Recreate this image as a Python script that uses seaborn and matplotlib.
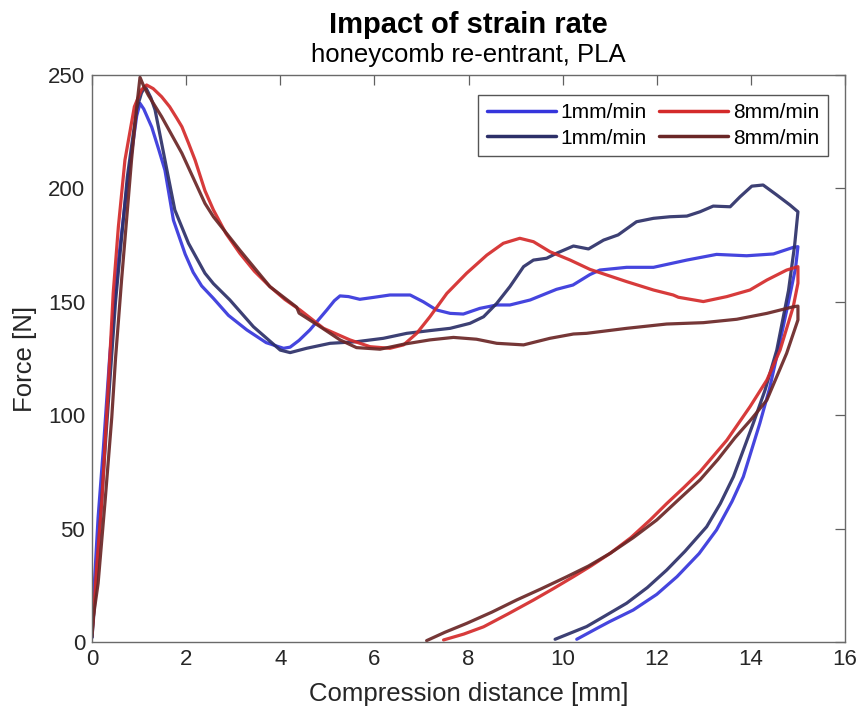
import numpy as np
import pandas as pd
import matplotlib
matplotlib.use("Agg")
import matplotlib.pyplot as plt
import seaborn as sns
from matplotlib.lines import Line2D

# ---------------- data ----------------
series_keys = ["b1", "n1", "r8", "k8"]
legend_labels = ["1mm/min", "1mm/min", "8mm/min", "8mm/min"]
series_colors = ["#3535dc", "#2c2f68", "#d42a2a", "#6a2626"]

b1_x = [0, 0.03, 0.13, 0.24, 0.38, 0.56, 0.77, 0.95, 1.02, 1.1, 1.27, 1.42, 1.55, 1.73, 1.98, 2.15, 2.33, 2.58, 2.9,
        3.29, 3.7, 4.07, 4.21, 4.4, 4.63, 4.99, 5.15, 5.27, 5.45, 5.69, 6.0, 6.33, 6.76, 7.04, 7.32, 7.61, 7.89,
        8.24, 8.60, 8.88, 9.31, 9.87, 10.22, 10.58, 10.79, 11.36, 11.93, 12.64, 13.27, 13.91, 14.48, 14.9,
        15.0, 14.95, 14.8, 14.58, 14.4, 14.19, 13.84, 13.6, 13.27, 12.9, 12.43, 12.0, 11.5, 11.0, 10.79, 10.3]
b1_f = [2, 18.5, 55, 85, 127, 168, 205, 232, 237.5, 235, 227, 217, 208, 186, 171, 163, 157, 151.5, 144,
        137.6, 132, 129.5, 130, 133, 137.6, 146.4, 150.5, 152.6, 152.3, 151.1, 152, 153, 153, 150, 146.4, 144.9, 144.6,
        147.1, 148.6, 148.6, 150.8, 155.5, 157.4, 162, 164, 165.2, 165.2, 168.4, 170.9, 170.3, 171.1, 174,
        174.3, 165, 150, 128.7, 112, 96.4, 72.9, 62, 49.4, 39, 28.8, 21, 14.1, 9, 6.7, 1.2]

n1_x = [0, 0.05, 0.15, 0.3, 0.5, 0.75, 0.95, 1.05, 1.13, 1.25, 1.34, 1.55, 1.76, 2.05, 2.40, 2.58, 2.93, 3.43, 4.0,
        4.21, 4.56, 5.06, 5.62, 6.19, 6.69, 7.18, 7.61, 8.03, 8.32, 8.60, 8.88, 9.17, 9.38, 9.66, 9.87,
        10.23, 10.55, 10.87, 11.18, 11.57, 11.93, 12.28, 12.64, 12.92, 13.20, 13.56, 13.77, 14.02, 14.26,
        14.55, 14.83, 15.0, 14.93, 14.8, 14.55, 14.3, 14.05, 13.63, 13.35, 13.06, 12.6, 12.21, 11.8, 11.36, 10.9, 10.51, 9.84]
n1_f = [2, 15, 45, 92, 150, 205, 235, 242, 245, 240, 234.6, 212.5, 190.5, 175.8, 162.6, 158, 150.8, 139, 128.7,
        127.6, 129.5, 131.7, 132.4, 133.9, 136.1, 137.3, 138.3, 140.5, 143.4, 149.3, 156.7, 165.5, 168.4, 169.2, 171.4,
        174.6, 173.3, 177.2, 179.5, 185.3, 186.8, 187.5, 187.8, 189.7, 192.2, 191.9, 196.3, 201, 201.5,
        197.1, 192.7, 189.7, 175, 155, 128.7, 111, 96.4, 72.9, 61, 50.8, 40, 31.7, 24, 17.1, 11.5, 6.8, 1.2]

r8_x = [0, 0.03, 0.10, 0.21, 0.31, 0.38, 0.45, 0.56, 0.70, 0.9, 1.05, 1.16, 1.3, 1.48, 1.65, 1.8, 1.91, 2.05, 2.19,
        2.40, 2.58, 2.85, 3.14, 3.45, 3.78, 4.1, 4.42, 4.92, 5.48, 5.91, 6.33, 6.62, 6.90, 7.18, 7.54, 7.96, 8.39, 8.74, 9.09,
        9.38, 9.73, 10.16, 10.58, 11.36, 11.93, 12.35, 12.46, 12.99, 13.49, 13.98, 14.34, 14.76, 15.0, 15.0,
        14.9, 14.62, 14.34, 13.98, 13.49, 12.92, 12.57, 12.21, 11.86, 11.45, 11.01, 10.6, 10.23, 9.8, 9.38, 8.85, 8.32, 7.9, 7.47]
r8_f = [4, 11.2, 33.2, 62.6, 99.3, 126, 153.7, 183, 212.5, 236, 243.5, 245.6, 244, 240.4, 236, 231, 227.2, 220, 212.5,
        199, 190.5, 180, 171.4, 163.5, 156.7, 151, 146.4, 138.3, 133.2, 130.2, 129.5, 131, 136.1, 143.4, 153.7, 162.6, 170.6, 175.8, 178,
        176.5, 172.1, 168.4, 164.3, 158.9, 155.2, 153, 152, 150.1, 152.3, 155.2, 159.6, 164, 165.5, 158.2,
        147.8, 128.7, 115.5, 103.7, 89, 75.1, 68, 61, 53.8, 46, 39.1, 33.5, 28.8, 23.5, 18.5, 12.5, 6.7, 3.5, 0.9]

k8_x = [0, 0.03, 0.13, 0.28, 0.42, 0.50, 0.63, 0.84, 0.95, 1.02, 1.1, 1.2, 1.48, 1.91, 2.40, 2.58, 3.14, 3.78, 4.35,
        4.40, 4.85, 5.27, 5.62, 6.12, 6.62, 7.18, 7.68, 8.17, 8.60, 9.17, 9.73, 10.23, 10.51, 11.36, 12.21,
        12.99, 13.70, 14.34, 14.90, 15.0, 15.0, 14.76, 14.34, 14.0, 13.66, 13.3, 12.92, 12.45, 12.0, 11.5, 11.01, 10.55,
        10.09, 9.55, 9.02, 8.5, 7.96, 7.5, 7.11]
k8_f = [2.3, 11.2, 25.9, 62.6, 99, 125, 160, 212.5, 236, 249, 245, 241, 231.6, 215.5, 193.4, 187.5, 172.8, 156.7, 147.6,
        145, 139, 133.2, 129.8, 129.1, 131.3, 133.2, 134.3, 133.5, 131.7, 131, 133.9, 135.8, 136.1, 138.3, 140.2,
        140.8, 142.3, 144.9, 147.8, 148.1, 142, 127.3, 106.7, 98, 90, 80.5, 71.5, 62.5, 53.8, 46, 39.1, 33.5,
        28.8, 23.5, 18.5, 13.2, 8.2, 4.3, 0.6]

x_ticks = [0, 2, 4, 6, 8, 10, 12, 14, 16]
y_ticks = [0, 50, 100, 150, 200, 250]

title_text = "Impact of strain rate"
subtitle_text = "honeycomb re-entrant, PLA"
x_label = "Compression distance [mm]"
y_label = "Force [N]"

# ---------------- build table ----------------
xs = [b1_x, n1_x, r8_x, k8_x]
fs = [b1_f, n1_f, r8_f, k8_f]
frames = []
for key, x, f in zip(series_keys, xs, fs):
    frames.append(pd.DataFrame({"x": x, "F": f, "series": key}))
df = pd.concat(frames, ignore_index=True)

# ---------------- plot ----------------
sns.set_theme(style="white")
plt.rcParams["font.family"] = ["Liberation Sans", "DejaVu Sans"]

W, H = 861, 713
fig = plt.figure(figsize=(W / 100, H / 100), dpi=100)
L, R, T, B = 92, 845, 75, 642
ax = fig.add_axes([L / W, 1 - B / H, (R - L) / W, (B - T) / H])

palette = dict(zip(series_keys, series_colors))
sns.lineplot(data=df, x="x", y="F", hue="series", palette=palette, sort=False,
             estimator=None, units="series", linewidth=2.3, alpha=0.92, ax=ax, legend=False)
for ln in ax.get_lines():
    ln.set_solid_joinstyle("round")
    ln.set_solid_capstyle("round")

ax.set_xlim(0, 16)
ax.set_ylim(0, 250)
ax.set_xticks(x_ticks)
ax.set_yticks(y_ticks)
ax.set_xticklabels([str(v) for v in x_ticks])
ax.set_yticklabels([str(v) for v in y_ticks])

txtc = "#262626"
ax.tick_params(direction="in", length=7, width=0.9, top=True, right=True,
               color="#606060", labelcolor=txtc, labelsize=16, pad=5)
for s in ax.spines.values():
    s.set_color("#6a6a6a")
    s.set_linewidth(1.0)
    s.set_visible(True)

ax.set_xlabel(x_label, fontsize=18.5, color=txtc, labelpad=9)
ax.set_ylabel(y_label, fontsize=18.5, color=txtc, labelpad=8)

fig.text((L + R) / 2 / W, 1 - 33 / H, title_text, ha="center", va="baseline",
         fontsize=21, fontweight="bold", color="black")
fig.text((L + R) / 2 / W, 1 - 62 / H, subtitle_text, ha="center", va="baseline",
         fontsize=18.5, color="black")

handles = [Line2D([0], [0], color=c, lw=2.5) for c in series_colors]
leg = ax.legend(handles, legend_labels, ncol=2, loc="upper right",
                bbox_to_anchor=((828 - L) / (R - L), (B - 95) / (B - T)), borderaxespad=0,
                fontsize=15, handlelength=3.3, handletextpad=0.25, columnspacing=0.6,
                labelspacing=0.3, borderpad=0.4, frameon=True, fancybox=False,
                edgecolor="#555555", framealpha=1)
leg.get_frame().set_linewidth(1.0)
for t in leg.get_texts():
    t.set_color("black")

fig.savefig("out.png", dpi=100)
